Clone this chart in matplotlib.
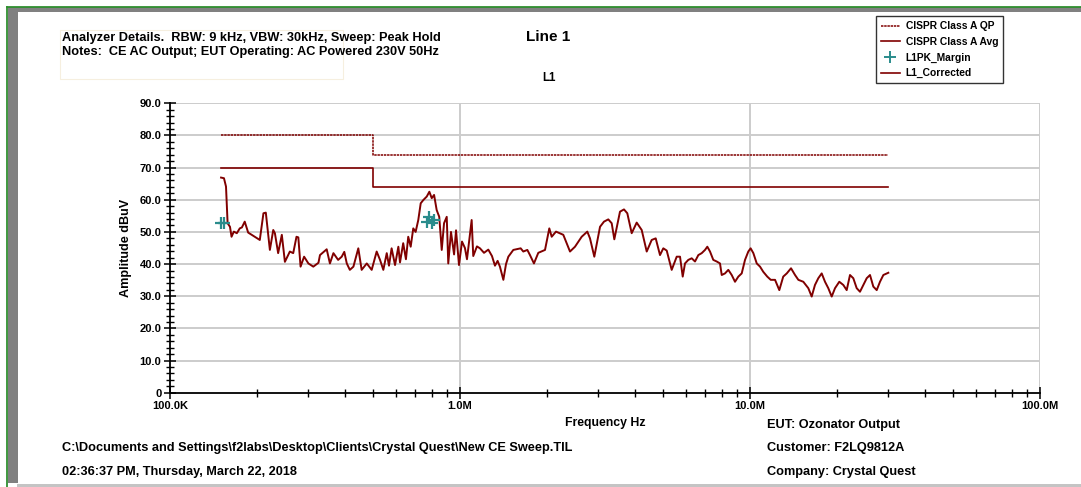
import matplotlib
matplotlib.use("Agg")
import matplotlib.pyplot as plt
from matplotlib.lines import Line2D
from matplotlib.patches import Rectangle
from matplotlib.ticker import FixedLocator, MultipleLocator, FixedFormatter, NullFormatter

plt.rcParams['font.family'] = ['Liberation Sans', 'DejaVu Sans']
plt.rcParams['font.weight'] = 'bold'

# ---- data (frequency in MHz, level in dBuV) ----
qp_freq = [0.15, 0.5, 0.5, 30.0]
qp_level = [80.0, 80.0, 74.0, 74.0]
avg_freq = [0.15, 0.5, 0.5, 30.0]
avg_level = [70.0, 70.0, 64.0, 64.0]

margin_freq = [0.150, 0.1535, 0.768, 0.784, 0.799, 0.814]
margin_level = [52.7, 52.7, 53.2, 54.7, 52.7, 53.7]

trace_freq = [
    0.150, 0.1535, 0.156, 0.158, 0.161, 0.163, 0.166, 0.170, 0.174, 0.177,
    0.181, 0.186, 0.204, 0.210, 0.214, 0.221, 0.227, 0.230, 0.236, 0.243,
    0.249, 0.259, 0.266, 0.273, 0.277, 0.282, 0.290, 0.300, 0.312, 0.325,
    0.329, 0.347, 0.356, 0.366, 0.380, 0.391, 0.399, 0.407, 0.417, 0.429,
    0.446, 0.458, 0.477, 0.496, 0.516, 0.530, 0.544, 0.559, 0.569, 0.581,
    0.597, 0.613, 0.621, 0.637, 0.651, 0.663, 0.676, 0.690, 0.703, 0.718,
    0.732, 0.747, 0.768, 0.784, 0.799, 0.814, 0.831, 0.848, 0.865, 0.881,
    0.900, 0.911, 0.931, 0.954, 0.969, 0.992, 1.016, 1.040, 1.057, 1.097,
    1.111, 1.144, 1.172, 1.210, 1.252, 1.289, 1.320, 1.348, 1.373, 1.411,
    1.441, 1.468, 1.527, 1.619, 1.653, 1.707, 1.743, 1.799, 1.862, 1.964,
    2.032, 2.071, 2.143, 2.271, 2.395, 2.492, 2.628, 2.748, 2.807, 2.905,
    3.040, 3.137, 3.246, 3.335, 3.405, 3.562, 3.677, 3.775, 3.909, 4.067,
    4.232, 4.404, 4.581, 4.730, 4.894, 5.024, 5.162, 5.370, 5.588, 5.737,
    5.861, 5.969, 6.127, 6.295, 6.462, 6.635, 6.815, 6.996, 7.126, 7.280,
    7.472, 7.678, 7.881, 7.989, 8.200, 8.418, 8.648, 8.878, 9.115, 9.363,
    9.612, 9.866, 10.05, 10.27, 10.55, 10.83, 11.11, 11.47, 11.79, 12.20,
    12.62, 13.02, 13.39, 13.85, 14.30, 14.68, 15.27, 15.89, 16.32, 16.75,
    17.20, 17.67, 18.14, 18.62, 19.13, 19.64, 20.32, 20.98, 21.55, 22.12,
    22.71, 23.33, 23.95, 24.59, 25.26, 25.93, 26.62, 27.35, 28.07, 28.83,
    29.99,
]
trace_level = [
    66.9, 66.7, 64.1, 52.7, 51.6, 48.5, 50.1, 49.6, 51.1, 51.4,
    53.2, 49.8, 47.5, 55.8, 56.0, 44.4, 50.6, 49.6, 43.4, 49.1,
    40.7, 43.9, 43.4, 48.5, 48.3, 39.2, 42.3, 40.2, 39.2, 40.4,
    42.8, 44.6, 40.2, 43.4, 41.3, 42.3, 43.8, 40.2, 38.2, 39.2,
    44.9, 38.2, 40.2, 38.2, 43.9, 41.3, 38.2, 43.4, 39.5, 44.9,
    39.7, 45.4, 40.5, 46.5, 41.5, 48.5, 45.4, 51.1, 50.0, 53.7,
    58.9, 59.9, 61.0, 62.5, 60.5, 61.5, 56.8, 54.7, 44.4, 52.7,
    54.7, 40.2, 50.0, 43.0, 50.5, 39.7, 47.0, 45.0, 41.5, 53.7,
    42.5, 45.5, 44.9, 43.5, 44.5, 42.5, 39.5, 41.0, 39.2, 35.1,
    40.0, 42.3, 44.4, 44.9, 43.9, 44.4, 42.8, 40.2, 43.5, 44.4,
    51.1, 48.5, 50.1, 49.1, 43.9, 45.4, 48.5, 50.1, 48.0, 42.3,
    51.6, 53.2, 53.9, 52.7, 47.7, 56.3, 57.0, 55.8, 49.6, 52.9,
    50.6, 43.9, 47.5, 48.0, 42.8, 44.9, 44.2, 38.2, 42.3, 42.3,
    36.1, 40.2, 41.3, 41.8, 40.8, 42.8, 43.4, 44.4, 45.4, 43.9,
    41.3, 40.8, 40.2, 36.6, 37.1, 38.2, 36.6, 34.5, 36.1, 37.1,
    41.3, 43.9, 44.9, 43.4, 40.2, 39.2, 37.6, 36.1, 35.1, 35.1,
    31.9, 36.1, 37.1, 38.7, 36.6, 35.1, 34.5, 32.5, 29.9, 33.5,
    35.6, 37.1, 34.5, 32.5, 29.9, 32.5, 34.5, 33.5, 31.9, 36.6,
    35.6, 32.5, 31.4, 33.5, 35.6, 36.6, 33.0, 31.9, 34.5, 36.6,
    37.3,
]
assert len(trace_freq) == len(trace_level)

x_ticks = [0.1, 1.0, 10.0, 100.0]
x_tick_labels = ['100.0K', '1.0M', '10.0M', '100.0M']
y_ticks = [0, 10, 20, 30, 40, 50, 60, 70, 80, 90]
y_tick_labels = ['0', '10.0', '20.0', '30.0', '40.0', '50.0', '60.0', '70.0', '80.0', '90.0']

dark_red = '#800000'
teal = '#2a8c8c'

W, H = 1081, 487
fig = plt.figure(figsize=(W / 100, H / 100), dpi=100)
fig.patch.set_facecolor('white')


def fx(px):
    return px / W


def fy(py):
    return 1 - py / H


# window frame
fig.add_artist(Rectangle((fx(8), fy(11.5)), fx(W), 4.5 / H, transform=fig.transFigure,
                         facecolor='#808080', edgecolor='none'))
fig.add_artist(Rectangle((fx(8), fy(483)), 10 / W, 476 / H, transform=fig.transFigure,
                         facecolor='#808080', edgecolor='none'))
fig.add_artist(Rectangle((fx(17), 0), fx(W), 3.5 / H, transform=fig.transFigure,
                         facecolor='#c4c4c4', edgecolor='none'))
fig.add_artist(Line2D([fx(7), 1], [fy(6.5), fy(6.5)], transform=fig.transFigure,
                      color='#2f8f2f', lw=1.3))
fig.add_artist(Line2D([fx(7.5), fx(7.5)], [0, fy(6.5)], transform=fig.transFigure,
                      color='#2f8f2f', lw=1.3))

ax = fig.add_axes([fx(170), fy(392.7), 870 / W, 289.4 / H])
ax.set_xscale('log')
ax.set_xlim(0.1, 100)
ax.set_ylim(0, 90)

# grid
for yv in y_ticks[1:]:
    ax.axhline(yv, color='#cccccc', lw=1.4, zorder=0)
for xv in x_ticks[1:]:
    ax.axvline(xv, color='#cccccc', lw=1.4, zorder=0)

qp_style = (0, (1.6, 0.5))
ax.plot(qp_freq, qp_level, color=dark_red, lw=1.1, linestyle=qp_style)
ax.plot(avg_freq, avg_level, color=dark_red, lw=1.2)
ax.plot(trace_freq, trace_level, color=dark_red, lw=1.4)
ax.plot(margin_freq, margin_level, linestyle='none', marker='+', color=teal,
        markersize=8, markeredgewidth=1.6)

for s in ['top', 'right']:
    ax.spines[s].set_visible(False)
for s in ['left', 'bottom']:
    ax.spines[s].set_linewidth(1.3)
    ax.spines[s].set_color('black')

ax.xaxis.set_major_locator(FixedLocator(x_ticks))
ax.xaxis.set_major_formatter(FixedFormatter(x_tick_labels))
minor_x = [m * d for d in [0.1, 1.0, 10.0] for m in range(2, 10)]
ax.xaxis.set_minor_locator(FixedLocator(minor_x))
ax.xaxis.set_minor_formatter(NullFormatter())
ax.yaxis.set_major_locator(FixedLocator(y_ticks))
ax.yaxis.set_major_formatter(FixedFormatter(y_tick_labels))
ax.yaxis.set_minor_locator(MultipleLocator(2))

ax.tick_params(axis='both', which='major', direction='inout', length=8.5, width=1.1,
               labelsize=8, pad=2)
ax.tick_params(axis='both', which='minor', direction='inout', length=5.5, width=1.0)
for lab in ax.get_xticklabels() + ax.get_yticklabels():
    lab.set_fontweight('bold')

ax.set_ylabel('Amplitude dBuV', fontsize=9.1, fontweight='bold', labelpad=5)
ax.set_xlabel('Frequency Hz', fontsize=8.8, fontweight='bold', labelpad=4)

# header / notes
fig.add_artist(Rectangle((fx(60), fy(79)), 283 / W, 49 / H, transform=fig.transFigure,
                         facecolor='none', edgecolor='#f6efdf', lw=0.8))
fig.text(fx(62), fy(38), 'Analyzer Details.  RBW: 9 kHz, VBW: 30kHz, Sweep: Peak Hold',
         fontsize=9.2, fontweight='bold', va='center', ha='left')
fig.text(fx(62), fy(52), 'Notes:  CE AC Output; EUT Operating: AC Powered 230V 50Hz',
         fontsize=9.2, fontweight='bold', va='center', ha='left')
fig.text(fx(548), fy(37), 'Line 1', fontsize=11, fontweight='bold', va='center', ha='center')
fig.text(fx(549), fy(78), 'L1', fontsize=8.3, fontweight='bold', va='center', ha='center')

# footer
fig.text(fx(767), fy(425), 'EUT: Ozonator Output', fontsize=9.2, fontweight='bold', va='center')
fig.text(fx(767), fy(448), 'Customer: F2LQ9812A', fontsize=9.2, fontweight='bold', va='center')
fig.text(fx(767), fy(472), 'Company: Crystal Quest', fontsize=9.2, fontweight='bold', va='center')
fig.text(fx(62), fy(448),
         'C:\\Documents and Settings\\f2labs\\Desktop\\Clients\\Crystal Quest\\New CE Sweep.TIL',
         fontsize=9.2, fontweight='bold', va='center')
fig.text(fx(62), fy(472), '02:36:37 PM, Thursday, March 22, 2018',
         fontsize=9.2, fontweight='bold', va='center')

# legend
handles = [
    Line2D([], [], color=dark_red, lw=1.1, linestyle=qp_style),
    Line2D([], [], color=dark_red, lw=1.2),
    Line2D([], [], color=teal, linestyle='none', marker='+', markersize=8, markeredgewidth=1.4),
    Line2D([], [], color=dark_red, lw=1.2),
]
labels = ['CISPR Class A QP', 'CISPR Class A Avg', 'L1PK_Margin', 'L1_Corrected']
leg = fig.legend(handles, labels, loc='upper left', bbox_to_anchor=(fx(876), fy(16)),
                 bbox_transform=fig.transFigure, fontsize=7.4, frameon=True, fancybox=False,
                 edgecolor='black', borderpad=0.5, labelspacing=0.55, handlelength=1.8,
                 handletextpad=0.6, borderaxespad=0)
leg.get_frame().set_linewidth(1.0)
for t in leg.get_texts():
    t.set_fontweight('bold')

fig.savefig('out.png', dpi=100)
